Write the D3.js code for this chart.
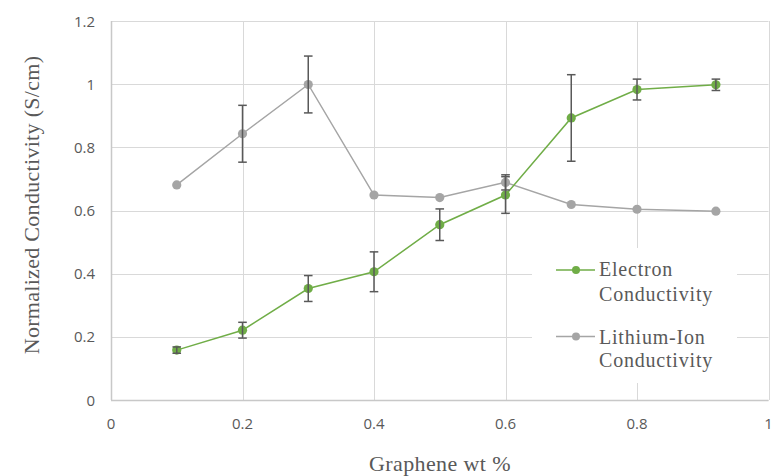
<!DOCTYPE html>
<html>
<head>
<meta charset="utf-8">
<script src="https://cdn.jsdelivr.net/npm/d3@7"></script>
<style>
  body { margin: 0; background: #fff; }
  svg { display: block; }
  .grid line { stroke: #d9d9d9; stroke-width: 1; }
  .tick-label { font-family: "Open Sans", sans-serif; font-size: 15px; fill: #595959; }
  .title { font-family: "Liberation Serif", "Times New Roman", serif; fill: #595959; }
</style>
</head>
<body>
<div id="chart"></div>
<script>
// values
var wtPercent = [0.1, 0.2, 0.3, 0.4, 0.5, 0.6, 0.7, 0.8, 0.92];
var electron = [0.158, 0.221, 0.353, 0.406, 0.555, 0.649, 0.893, 0.983, 0.998];
var electronErr = [0.01, 0.025, 0.041, 0.063, 0.05, 0.058, 0.137, 0.033, 0.018];
var lithium = [0.681, 0.843, 0.999, 0.649, 0.641, 0.689, 0.619, 0.604, 0.598];
var lithiumErr = [0, 0.09, 0.09, 0, 0, 0.024, 0, 0, 0];
var xTicks = [0, 0.2, 0.4, 0.6, 0.8, 1];
var yTicks = [0, 0.2, 0.4, 0.6, 0.8, 1, 1.2];
var seriesNames = [["Electron", "Conductivity"], ["Lithium-Ion", "Conductivity"]];

var width = 780, height = 476;

var svg = d3.select("#chart")
  .append("svg")
  .attr("width", width)
  .attr("height", height)
;

var x = d3.scaleLinear().domain([0, 1]).range([111, 768.5]);
var y = d3.scaleLinear().domain([0, 1.2]).range([400, 21]);

function fmt(d) {
  return String(+d.toFixed(1));
}

// gridlines
var grid = svg.append("g").attr("class", "grid");
grid.selectAll("line.h")
  .data(yTicks)
  .enter()
  .append("line")
  .attr("x1", x(0))
  .attr("x2", x(1))
  .attr("y1", function(d) { return Math.round(y(d)) + 0.5; })
  .attr("y2", function(d) { return Math.round(y(d)) + 0.5; })
;
grid.selectAll("line.v")
  .data(xTicks)
  .enter()
  .append("line")
  .attr("y1", y(0))
  .attr("y2", y(1.2))
  .attr("x1", function(d) { return Math.round(x(d)) + 0.5; })
  .attr("x2", function(d) { return Math.round(x(d)) + 0.5; })
;

// axis lines (left and bottom a bit darker)
svg.append("line")
  .attr("x1", Math.round(x(0)) + 0.5).attr("x2", Math.round(x(0)) + 0.5)
  .attr("y1", y(0)).attr("y2", y(1.2))
  .attr("stroke", "#c8c8c8").attr("stroke-width", 1.5)
;
svg.append("line")
  .attr("x1", x(0)).attr("x2", x(1))
  .attr("y1", Math.round(y(0)) + 0.5).attr("y2", Math.round(y(0)) + 0.5)
  .attr("stroke", "#c8c8c8").attr("stroke-width", 1.5)
;

// tick labels
svg.selectAll("text.xt")
  .data(xTicks)
  .enter()
  .append("text")
  .attr("class", "tick-label")
  .attr("x", function(d) { return x(d); })
  .attr("y", 429)
  .attr("text-anchor", "middle")
  .text(fmt)
;
svg.selectAll("text.yt")
  .data(yTicks)
  .enter()
  .append("text")
  .attr("class", "tick-label")
  .attr("x", 95)
  .attr("y", function(d) { return y(d) + 5.5; })
  .attr("text-anchor", "end")
  .text(fmt)
;

// axis titles
svg.append("text")
  .attr("class", "title")
  .attr("x", 440)
  .attr("y", 471)
  .attr("text-anchor", "middle")
  .style("font-size", "22px")
  .style("letter-spacing", "0.4px")
  .text("Graphene wt %")
;
svg.append("text")
  .attr("class", "title")
  .attr("transform", "translate(39,205) rotate(-90)")
  .attr("text-anchor", "middle")
  .style("font-size", "22px")
  .style("letter-spacing", "0.3px")
  .text("Normalized Conductivity (S/cm)")
;

var series = [
  { vals: lithium, err: lithiumErr, color: "#a5a5a5" },
  { vals: electron, err: electronErr, color: "#70ad47" }
];

var line = d3.line()
  .x(function(d, i) { return x(wtPercent[i]); })
  .y(function(d) { return y(d); })
;

series.forEach(function(s) {
  svg.append("path")
    .datum(s.vals)
    .attr("d", line)
    .attr("fill", "none")
    .attr("stroke", s.color)
    .attr("stroke-width", 1.5)
  ;
  svg.append("g")
    .selectAll("circle")
    .data(s.vals)
    .enter()
    .append("circle")
    .attr("cx", function(d, i) { return x(wtPercent[i]); })
    .attr("cy", function(d) { return y(d); })
    .attr("r", 4.6)
    .attr("fill", s.color)
  ;
});

// error bars on top
series.forEach(function(s) {
  var eg = svg.append("g")
    .attr("stroke", "#595959")
    .attr("stroke-width", 1.5)
  ;
  s.vals.forEach(function(v, i) {
    var e = s.err[i];
    if (!e) return;
    var cx = x(wtPercent[i]);
    eg.append("line")
      .attr("x1", cx).attr("x2", cx)
      .attr("y1", y(v + e)).attr("y2", y(v - e));
    [v + e, v - e].forEach(function(c) {
      eg.append("line")
        .attr("x1", cx - 4.3).attr("x2", cx + 4.3)
        .attr("y1", y(c)).attr("y2", y(c));
    });
  });
});

// legend
var legend = svg.append("g");
legend.append("rect")
  .attr("x", 532).attr("y", 248)
  .attr("width", 205).attr("height", 135)
  .attr("fill", "#fff")
;
var legendRows = [
  { lineY: 270, base: [276, 300.5], color: "#70ad47" },
  { lineY: 336.5, base: [344, 367], color: "#a5a5a5" }
];
legendRows.forEach(function(r, k) {
  legend.append("line")
    .attr("x1", 556).attr("x2", 595)
    .attr("y1", r.lineY).attr("y2", r.lineY)
    .attr("stroke", r.color).attr("stroke-width", 1.5)
  ;
  legend.append("circle")
    .attr("cx", 576).attr("cy", r.lineY).attr("r", 4)
    .attr("fill", r.color)
  ;
  seriesNames[k].forEach(function(t, j) {
    legend.append("text")
      .attr("class", "title")
      .attr("x", 599)
      .attr("y", r.base[j])
      .style("font-size", "20px")
      .style("letter-spacing", "0.8px")
      .text(t)
    ;
  });
});
</script>
</body>
</html>
